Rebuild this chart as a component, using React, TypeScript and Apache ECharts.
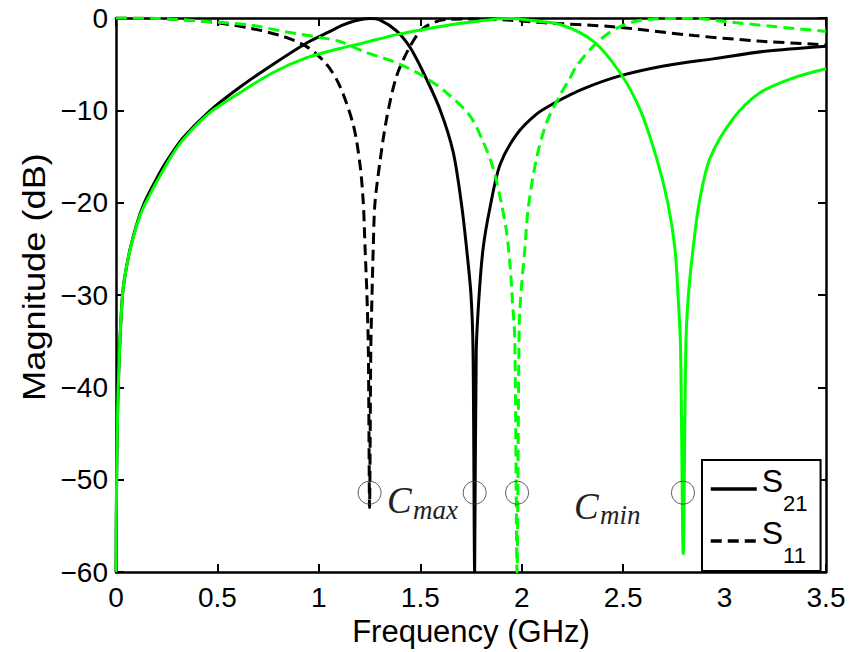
import React, { useEffect, useRef } from "react";
import * as echarts from "echarts";

// Frequency axis (GHz) and magnitude axis (dB)
const FREQ_MIN = 0;
const FREQ_MAX = 3.5;
const FREQ_STEP = 0.5;
const DB_MIN = -60;
const DB_MAX = 0;
const DB_STEP = 10;

// S21 with the varactor at C_max (black, solid)
const s21MaxFreq = [0, 0.003, 0.011, 0.032, 0.06, 0.1, 0.14, 0.2, 0.25, 0.33, 0.46, 0.61, 0.775, 0.94, 1.05, 1.12, 1.18, 1.25, 1.3, 1.383, 1.45, 1.515, 1.597, 1.662, 1.704, 1.728, 1.75, 1.76, 1.768, 1.776, 1.79, 1.81, 1.843, 1.893, 1.975, 2.073, 2.17, 2.3, 2.48, 2.7, 2.95, 3.2, 3.5];
const s21MaxDb = [-60, -50, -40, -30, -26, -22.5, -20, -17.4, -15.5, -13, -10.1, -7.5, -5.0, -2.7, -1.5, -0.75, -0.3, -0.05, -0.2, -1.4, -3.2, -5.9, -9.9, -14.5, -20.3, -24.9, -30, -36, -60, -36, -30, -24.9, -20.6, -15.9, -12.6, -10.4, -9.1, -7.7, -6.3, -5.2, -4.4, -3.6, -3.05];

// S11 with the varactor at C_max (black, dashed)
const s11MaxFreq = [0, 0.2, 0.3, 0.46, 0.66, 0.825, 0.94, 1.038, 1.104, 1.17, 1.203, 1.219, 1.228, 1.237, 1.244, 1.25, 1.256, 1.262, 1.268, 1.276, 1.301, 1.334, 1.383, 1.449, 1.515, 1.63, 1.8, 1.95, 2.1, 2.45, 2.85, 3.17, 3.5];
const s11MaxDb = [0, -0.05, -0.15, -0.4, -1.1, -2.0, -3.1, -5.0, -7.4, -11.6, -15.9, -20, -25, -30, -36, -53, -36, -30, -25, -20.2, -15.6, -10.9, -6.3, -3.1, -1.1, -0.15, -0.1, -0.25, -0.5, -0.95, -1.9, -2.5, -2.9];

// S21 with the varactor at C_min (green, solid)
const s21MinFreq = [0, 0.003, 0.011, 0.032, 0.06, 0.1, 0.14, 0.25, 0.33, 0.46, 0.61, 0.775, 0.94, 1.104, 1.219, 1.383, 1.548, 1.712, 1.876, 1.95, 2.04, 2.19, 2.352, 2.484, 2.583, 2.665, 2.72, 2.755, 2.771, 2.783, 2.796, 2.809, 2.821, 2.845, 2.875, 2.928, 3.042, 3.174, 3.338, 3.5];
const s21MinDb = [-60, -50, -40, -30, -26, -22.6, -20.3, -15.8, -13.2, -10.3, -8.1, -5.9, -4.3, -3.3, -2.7, -1.8, -1.1, -0.55, -0.1, -0.05, -0.25, -0.7, -2.5, -5.9, -9.9, -15.2, -20, -24.9, -30.2, -35.6, -58, -35.6, -30.2, -24.9, -20, -15.2, -10.9, -8.1, -6.5, -5.5];

// S11 with the varactor at C_min (green, dashed)
const s11MinFreq = [0, 0.2, 0.3, 0.46, 0.66, 0.825, 0.989, 1.104, 1.219, 1.383, 1.515, 1.63, 1.745, 1.81, 1.86, 1.901, 1.925, 1.942, 1.955, 1.966, 1.977, 1.988, 2.0, 2.016, 2.032, 2.073, 2.123, 2.188, 2.238, 2.27, 2.369, 2.468, 2.599, 2.845, 3.01, 3.256, 3.5];
const s11MinDb = [0, -0.05, -0.15, -0.4, -0.75, -1.45, -2.05, -2.55, -3.6, -4.85, -6.3, -8.1, -10.6, -13.4, -16.3, -20.2, -23.1, -26.6, -30.9, -34.9, -60, -33.1, -28.8, -24.9, -20.6, -15.2, -11.3, -8.4, -6.5, -5.2, -2.7, -1.1, -0.2, -0.04, -0.4, -0.95, -1.45];

// Circled notch frequencies
const notchFreq = [1.25, 1.768, 1.977, 2.795];
const notchMarkDb = [-51.4, -51.4, -51.4, -51.4];

const legendNames = ["S21", "S11"];

const GREEN = "#00ff00";
const BLACK = "#000000";
const SANS = "'Liberation Sans', Arial, Helvetica, sans-serif";
const SERIF = "'Liberation Serif', 'Times New Roman', serif";

const zip = (xs: number[], ys: number[]) => xs.map((x, i) => [x, ys[i]]);
const minus = (v: number) => String(v).replace("-", "\u2212");

const lineSeries = (name: string, color: string, dashed: boolean, xs: number[], ys: number[]) => ({
  type: "line",
  name,
  data: zip(xs, ys),
  showSymbol: false,
  symbol: "none",
  smooth: 0.3,
  clip: true,
  lineStyle: { color, width: 3, type: dashed ? [11, 6] : "solid" },
  itemStyle: { color },
  emphasis: { disabled: true },
});

const frameAxis = {
  axisLine: { show: true, onZero: false, lineStyle: { color: BLACK, width: 2.5 } },
  axisTick: { show: true, inside: true, length: 8, lineStyle: { color: BLACK, width: 2 } },
  splitLine: { show: false },
};

export default function App() {
  const ref = useRef<HTMLDivElement>(null);

  useEffect(() => {
    if (!ref.current) return;
    const chart = echarts.init(ref.current, null, { renderer: "svg" });

    const annotation = (x: number, y: number, sub: string, subDy: number) => [
      {
        type: "text",
        x,
        y,
        style: { text: "C", font: `italic 37px ${SERIF}`, fill: "#222", verticalAlign: "middle", align: "left" },
      },
      {
        type: "text",
        x: x + 26,
        y: y + subDy,
        style: { text: sub, font: `italic 27px ${SERIF}`, fill: "#222", verticalAlign: "middle", align: "left" },
      },
    ];

    chart.setOption({
      animation: false,
      backgroundColor: "#ffffff",
      grid: { left: 116, right: 32, top: 18, bottom: 74, containLabel: false },
      xAxis: [
        {
          type: "value",
          position: "bottom",
          min: FREQ_MIN,
          max: FREQ_MAX,
          interval: FREQ_STEP,
          name: "Frequency (GHz)",
          nameLocation: "middle",
          nameGap: 40,
          nameTextStyle: { fontFamily: SANS, fontSize: 31, color: BLACK },
          axisLabel: { fontFamily: SANS, fontSize: 28, color: BLACK, margin: 11 },
          ...frameAxis,
        },
        {
          type: "value",
          position: "top",
          min: FREQ_MIN,
          max: FREQ_MAX,
          interval: FREQ_STEP,
          axisLabel: { show: false },
          ...frameAxis,
        },
      ],
      yAxis: [
        {
          type: "value",
          position: "left",
          min: DB_MIN,
          max: DB_MAX,
          interval: DB_STEP,
          axisLabel: { fontFamily: SANS, fontSize: 28, color: BLACK, margin: 8, formatter: (v: number) => minus(v) },
          ...frameAxis,
        },
        {
          type: "value",
          position: "right",
          min: DB_MIN,
          max: DB_MAX,
          interval: DB_STEP,
          axisLabel: { show: false },
          ...frameAxis,
        },
      ],
      legend: {
        data: legendNames,
        orient: "vertical",
        left: 702,
        top: 460,
        selectedMode: false,
        backgroundColor: "#ffffff",
        borderColor: BLACK,
        borderWidth: 2,
        borderRadius: 0,
        padding: [4, 13, 5, 7],
        itemWidth: 46,
        itemHeight: 14,
        itemGap: 2,
        itemStyle: { opacity: 0 },
        lineStyle: { width: 3.5 },
        formatter: (name: string) => `{s|S}{sub|${name.slice(1)}}`,
        textStyle: {
          color: BLACK,
          fontFamily: SANS,
          rich: {
            s: { fontSize: 32, lineHeight: 32, fontFamily: SANS, color: BLACK, padding: [0, 0, 16, 0] },
            sub: { fontSize: 22, lineHeight: 22, fontFamily: SANS, color: BLACK, padding: [28, 0, 0, 0] },
          },
        },
      },
      series: [
        lineSeries("S21", BLACK, false, s21MaxFreq, s21MaxDb),
        lineSeries("S11", BLACK, true, s11MaxFreq, s11MaxDb),
        lineSeries("S21 (C_min)", GREEN, false, s21MinFreq, s21MinDb),
        lineSeries("S11 (C_min)", GREEN, true, s11MinFreq, s11MinDb),
        {
          type: "scatter",
          name: "notch",
          data: zip(notchFreq, notchMarkDb),
          symbol: "circle",
          symbolSize: 23,
          itemStyle: { color: "rgba(0,0,0,0)", borderColor: "#333", borderWidth: 1 },
          emphasis: { disabled: true },
          z: 5,
        },
      ],
      graphic: [
        {
          // y-axis title, drawn slightly stretched along its length
          type: "text",
          x: 34,
          y: 277,
          rotation: Math.PI / 2,
          scaleX: 1.17,
          style: {
            text: "Magnitude (dB)",
            font: `31px ${SANS}`,
            fill: BLACK,
            align: "center",
            verticalAlign: "middle",
          },
        },
        ...annotation(387, 500, "max", 10),
        ...annotation(574, 506, "min", 9),
      ],
    });

    return () => chart.dispose();
  }, []);

  return <div ref={ref} style={{ position: "fixed", left: 0, top: 0, width: 858, height: 652 }} />;
}
